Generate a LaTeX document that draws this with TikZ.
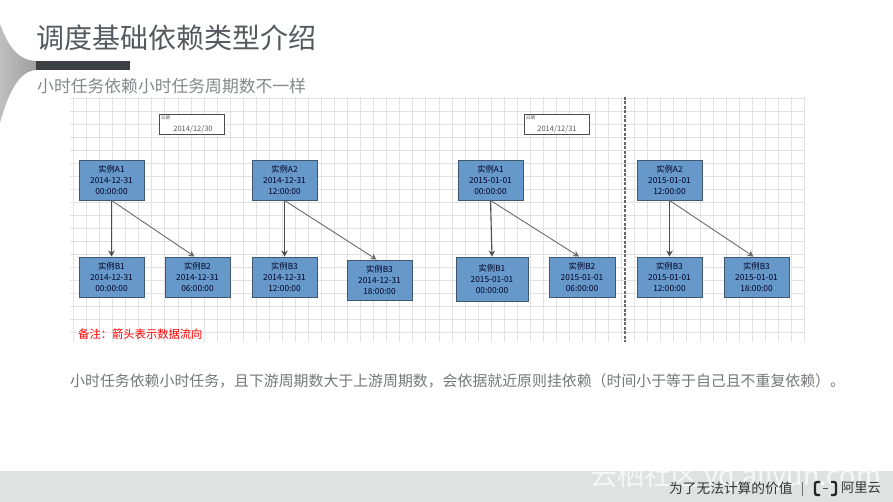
\documentclass[tikz,border=0pt]{standalone}
\usepackage{fontspec}
\setmainfont{Noto Sans CJK SC}
\usetikzlibrary{arrows.meta,shadows}
\definecolor{titlegray}{HTML}{55595E}
\definecolor{subgray}{HTML}{85888B}
\definecolor{bodygray}{HTML}{75787B}
\definecolor{barc}{HTML}{3C4045}
\definecolor{boxfill}{HTML}{6699C9}
\definecolor{boxline}{HTML}{3F5870}
\definecolor{gridc}{HTML}{E2E2E2}
\definecolor{band}{HTML}{E0E1E1}
\newcommand{\fwcomma}{\symbol{"FF0C}}
\newcommand{\fwcolon}{\symbol{"FF1A}}
\newcommand{\fwopen}{\symbol{"FF08}}
\newcommand{\fwclose}{\symbol{"FF09}}
\newcommand{\fwstop}{\symbol{"3002}}
\tikzset{
  inst/.style={draw=boxline,line width=0.9pt,fill=boxfill,rectangle,inner sep=0pt,
    align=center,font=\fontsize{8.3}{11}\selectfont,text=black!85!blue,
    general shadow={fill=black!30,shadow xshift=1pt,shadow yshift=-1pt}},
  datebox/.style={draw=black!70,line width=0.8pt,fill=white,rectangle,inner sep=0pt,
    minimum width=65pt,minimum height=20pt},
  datelabel/.style={inner sep=0pt,text=black!65,font=\fontsize{4.5}{5}\selectfont},
  datetext/.style={inner sep=0pt,text=black!65,font=\fontsize{7.5}{8}\selectfont},
  flow/.style={draw=black!70,line width=1.1pt,-{Stealth[length=6pt,width=6.5pt]}},
  diag/.style={draw=black!58,line width=0.9pt,-{Stealth[length=6pt,width=6.5pt]}},
  txt/.style={inner sep=0pt,anchor=west},
}
\newcommand{\inst}[7]{% name, x1, y1, x2, y2, line1, line2+3
  \node[inst,minimum width={#4-#2},minimum height={#5-#3}] (#1) at ({(#2+#4)/2},{(#3+#5)/2}) {#6\\#7};}
\begin{document}
\begin{tikzpicture}[x=1pt,y=-1pt]
\useasboundingbox (0,0) rectangle (893,502);
\fill[white] (0,0) rectangle (893,502);
% corner flare
\shade[left color=black!25,right color=black!38]
  (0,24) .. controls (9,48) and (18,60) .. (36,61) -- (36,70)
  .. controls (20,71) and (9,90) .. (0,123) -- cycle;
\fill[barc] (36,61) rectangle (130,70);
% titles
\node[txt,text=titlegray,font=\fontsize{28}{30}\selectfont] (title) at (36,38) {调度基础依赖类型介绍};
\node[txt,text=subgray,font=\fontsize{16.8}{20}\selectfont] (subtitle) at (37,86) {小时任务依赖小时任务周期数不一样};
% grid
\foreach \i in {0,...,56} \draw[gridc,line width=0.6pt] ({73.4+13.05*\i},97) -- ({73.4+13.05*\i},342);
\foreach \j in {0,...,18} \draw[gridc,line width=0.6pt] (70,{98.2+13.03*\j}) -- (804,{98.2+13.03*\j});
% divider
\coordinate (divtop) at (625,97);
\coordinate (divbot) at (625,342);
\draw[black!60,line width=1.3pt,dash pattern=on 3pt off 1.5pt] (divtop) -- (divbot);
% date boxes
\node[datebox] (d1) at (191.5,124) {};
\node[datelabel,anchor=north west] (d1l) at (161,116) {日期};
\node[datetext] (d1t) at (193,129) {2014/12/30};
\node[datebox] (d2) at (556.5,124) {};
\node[datelabel,anchor=north west] (d2l) at (526,116) {日期};
\node[datetext] (d2t) at (557,129) {2014/12/31};
% instances, left
\inst{la1}{79}{160}{144}{200}{实例A1}{2014-12-31\\00:00:00}
\inst{la2}{252}{160}{317}{200}{实例A2}{2014-12-31\\12:00:00}
\inst{lb1}{79}{257}{144}{297}{实例B1}{2014-12-31\\00:00:00}
\inst{lb2}{165}{257}{230}{297}{实例B2}{2014-12-31\\06:00:00}
\inst{lb3}{252}{257}{317}{297}{实例B3}{2014-12-31\\12:00:00}
\inst{lb4}{347}{260}{412}{300}{实例B3}{2014-12-31\\18:00:00}
% instances, right
\inst{ra1}{458}{160}{523}{200}{实例A1}{2015-01-01\\00:00:00}
\inst{ra2}{637}{160}{702}{200}{实例A2}{2015-01-01\\12:00:00}
\inst{rb1}{456}{257}{528}{301}{实例B1}{2015-01-01\\00:00:00}
\inst{rb2}{549}{257}{615}{297}{实例B2}{2015-01-01\\06:00:00}
\inst{rb3}{637}{257}{702}{297}{实例B3}{2015-01-01\\12:00:00}
\inst{rb4}{724}{257}{789}{297}{实例B3}{2015-01-01\\18:00:00}
% connectors
\draw[flow] (la1.south) -- (lb1.north);
\draw[diag] (la1.south) -- ([xshift=-3pt]lb2.north);
\draw[flow] (la2.south) -- (lb3.north);
\draw[diag] (la2.south) -- ([xshift=-3pt]lb4.north);
\draw[flow] (ra1.south) -- (rb1.north);
\draw[diag] (ra1.south) -- ([xshift=-3pt]rb2.north);
\draw[flow] (ra2.south) -- (rb3.north);
\draw[diag] (ra2.south) -- ([xshift=-3pt]rb4.north);
% notes
\node[txt,text=red,font=\fontsize{11.3}{14}\selectfont] (note) at (78,334) {备注\fwcolon 箭头表示数据流向};
\node[txt,text=bodygray,font=\fontsize{14.9}{17}\selectfont] (body) at (70,381)
  {小时任务依赖小时任务\fwcomma 且下游周期数大于上游周期数\fwcomma 会依据就近原则挂依赖\fwopen 时间小于等于自己且不重复依赖\fwclose\fwstop};
% footer
\fill[band] (0,471) rectangle (893,502);
\node[txt,text=white,opacity=0.75,font=\fontsize{27}{30}\selectfont] (wm) at (590,477) {云栖社区 yq.aliyun.com};
\node[txt,text=black!80,font=\fontsize{13.7}{15}\selectfont] (slogan) at (669,488) {为了无法计算的价值};
\draw[black!55,line width=0.6pt] (802,482) -- (802,496);
\draw[black!85,line width=2.4pt,rounded corners=2pt] (820,482) -- (815,482) -- (815,495) -- (820,495);
\draw[black!85,line width=2.4pt,rounded corners=2pt] (831,482) -- (836,482) -- (836,495) -- (831,495);
\draw[black!70,line width=0.8pt] (823,488.5) -- (828,488.5);
\node[txt,text=black!80,font=\fontsize{13.2}{15}\selectfont] (brand) at (841,488) {阿里云};
\end{tikzpicture}
\end{document}
